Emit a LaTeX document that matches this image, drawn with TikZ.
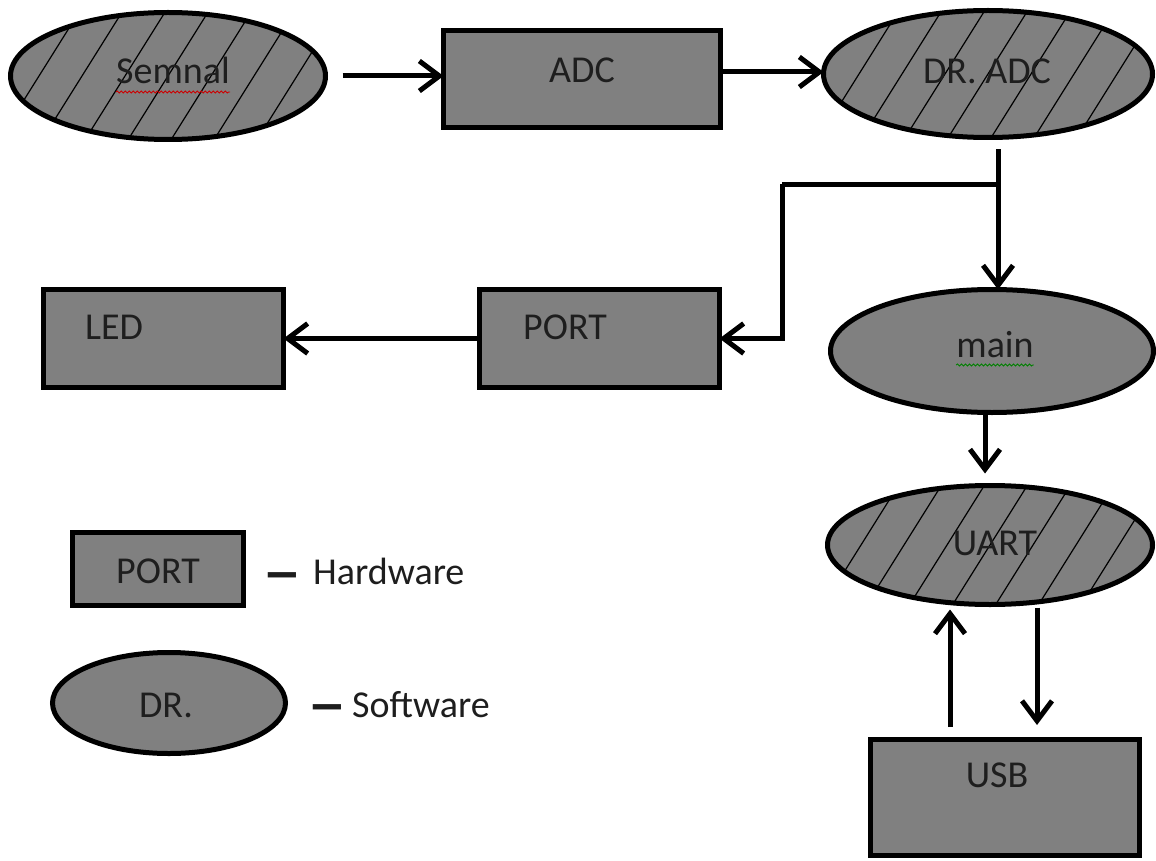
\documentclass[tikz,border=0pt]{standalone}
\usepackage{fontspec}
\setmainfont{Carlito}
\usetikzlibrary{shapes.geometric,arrows.meta,decorations.pathmorphing}
\definecolor{boxgray}{HTML}{808080}
\definecolor{txt}{HTML}{1E1E1E}
\tikzset{
  hw/.style={rectangle,draw=black,fill=boxgray,line width=5pt,inner sep=0pt,outer sep=0pt},
  sw/.style={ellipse,draw=black,fill=boxgray,line width=5pt,inner sep=0pt,outer sep=0pt},
  lbl/.style={text=txt,inner sep=0pt,anchor=base,font=\fontsize{38}{42}\selectfont},
  arr/.style={line width=5pt,-{Straight Barb[length=20pt,width=30pt,line width=5pt]}},
  plain/.style={line width=5pt},
  hatch/.style={line width=1.2pt,black},
  squig/.style={line width=0.9pt,decorate,decoration={snake,segment length=4pt,amplitude=1pt}}
}
\newcommand\hatchell[3]{%
  \begin{scope}
    \clip (#1.center) ellipse [x radius=#2pt, y radius=#3pt];
    \foreach \k in {-6,...,6}
      \draw[hatch] ([xshift={\k*43pt-0.627*#3pt}, yshift=-#3pt]#1.center)
                -- ([xshift={\k*43pt+0.627*#3pt}, yshift=#3pt]#1.center);
  \end{scope}}
\begin{document}
\begin{tikzpicture}[x=1pt,y=-1pt]
\useasboundingbox[fill=white] (0,0) rectangle (1156,861);

% shapes
\node[sw,minimum width=315,minimum height=127] (semnal) at (168,76) {};
\hatchell{semnal}{157}{63}
\node[hw,minimum width=277,minimum height=97] (adc) at (582,79) {};
\node[sw,minimum width=329,minimum height=127] (dradc) at (988,74) {};
\hatchell{dradc}{164}{63}
\node[sw,minimum width=323,minimum height=123] (main) at (992,351) {};
\node[sw,minimum width=325,minimum height=119] (uart) at (990,545) {};
\hatchell{uart}{162}{59}
\node[hw,minimum width=269,minimum height=116] (usb) at (1005,797) {};
\node[hw,minimum width=240,minimum height=98] (led) at (163.5,338.5) {};
\node[hw,minimum width=240,minimum height=98] (port) at (599.5,338.5) {};
\node[hw,minimum width=171,minimum height=73] (lport) at (158,569) {};
\node[sw,minimum width=233,minimum height=101] (ldr) at (169,703) {};

% labels
\node[lbl] (tsemnal) at (173,84) {Semnal};
\node[lbl] (tadc) at (582,83) {ADC};
\node[lbl] (tdradc) at (987,84) {DR. ADC};
\node[lbl] (tled) at (114,339) {LED};
\node[lbl] (tport) at (565,339) {PORT};
\node[lbl] (tmain) at (995,357) {main};
\node[lbl] (tuart) at (995,555) {UART};
\node[lbl] (tusb) at (997,787) {USB};
\node[lbl] (tlport) at (158,583) {PORT};
\node[lbl] (tldr) at (166,717) {DR.};
\node[lbl,anchor=base west] (thw) at (313,584) {Hardware};
\node[lbl,anchor=base west] (tsw) at (352,717) {Software};
\node[lbl] (dhw) at (282,592) {\scalebox{2.1}[1.6]{\bfseries –}};
\node[lbl] (dsw) at (327,724) {\scalebox{2.1}[1.6]{\bfseries –}};

% spell-check marks
\draw[squig,red!80!black] ([yshift=-8pt]tsemnal.base west) -- ([yshift=-8pt]tsemnal.base east);
\draw[squig,green!50!black] ([yshift=-8pt]tmain.base west) -- ([yshift=-8pt]tmain.base east);

% connectors
\draw[arr] ([xshift=17pt]semnal.east) -- (semnal.east -| adc.west);
\draw[arr] ([yshift=7pt]adc.east) -- ([yshift=7pt]adc.east -| dradc.west);
\coordinate (c1) at ([xshift=10pt,yshift=-12pt]dradc.south);
\coordinate (c2) at ([yshift=-35pt]c1);
\coordinate (c3) at ([xshift=-216pt]c2);
\draw[arr] (c1) -- (c1 |- main.north);
\draw[plain] (c2) -- (c3);
\draw[arr] (c3) |- (port.east);
\draw[arr] (port.west) -- (led.east);
\coordinate (m1) at ([xshift=-7pt]main.south);
\coordinate (u1) at ([yshift=12pt]uart.north);
\draw[arr] (m1) -- (m1 |- u1);
\coordinate (b1) at ([xshift=-55pt,yshift=12pt]usb.north);
\coordinate (u2) at ([yshift=-5pt]uart.south);
\draw[arr] (b1) -- (b1 |- u2);
\coordinate (u3) at ([xshift=47pt,yshift=-3pt]uart.south);
\coordinate (b2) at ([yshift=14pt]usb.north);
\draw[arr] (u3) -- (u3 |- b2);
\end{tikzpicture}
\end{document}
